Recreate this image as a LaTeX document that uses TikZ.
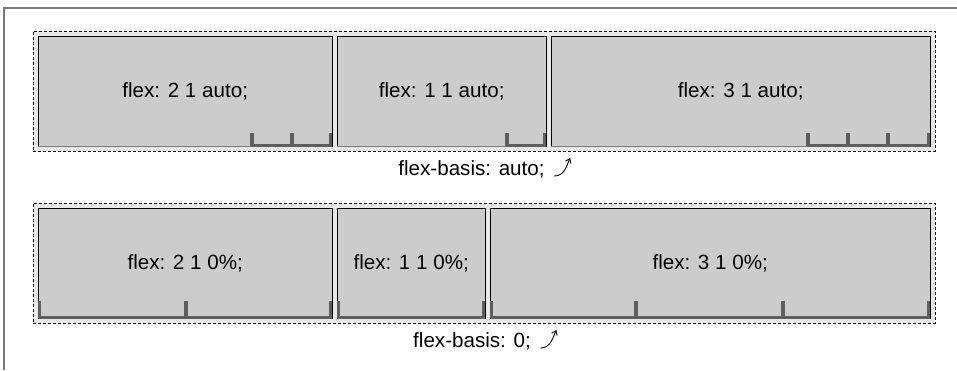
\documentclass[tikz,border=0pt]{standalone}
\usepackage{fontspec}
\setmainfont{Liberation Sans}
\usetikzlibrary{arrows.meta,calc}
\definecolor{itemgray}{HTML}{CCCCCC}
\definecolor{boxgray}{HTML}{E8E8E8}
\definecolor{bargray}{HTML}{5E5E5E}
\definecolor{framegray}{HTML}{7A7A7A}

\begin{document}
\begin{tikzpicture}[
x=1pt, y=-1pt,
box/.style={draw, dash pattern=on 3pt off 2pt, fill=boxgray, inner sep=0, anchor=north west, minimum width=902, minimum height=120},
item/.style={draw=black, fill=itemgray, inner sep=0, anchor=north west, minimum height=110, font=\fontsize{20.6}{24}\selectfont},
edge/.style={draw=framegray, line width=0.8pt},
bar/.style={draw=bargray, line width=3.4pt},
tick/.style={draw=bargray, line width=3.6pt},
lbl/.style={anchor=base, font=\fontsize{20.6}{24}\selectfont},
turn/.style={-{Straight Barb[length=4pt, width=6pt]}, line width=0.9pt}
]
\useasboundingbox (0,0) rectangle (957,370);
\draw[framegray, line width=1.2pt] (4,370) -- (4,8) -- (957,8);

% flex-basis: auto
\node[box] (boxA) at (33,31) {};
\node[item, minimum width=294] (t1) at (38,36) {flex: 2 1 auto;};
\node[item, minimum width=209] (t2) at (337,36) {flex: 1 1 auto;};
\node[item, minimum width=379] (t3) at (551,36) {flex: 3 1 auto;};
\foreach \n in {t1,t2,t3}
  \draw[edge] (\n.south west) -- (\n.south east);
\draw[bar] ($(t1.south -| 251,0)+(0,-1)$) -- ($(t1.south east)+(-0.5,-1)$);
\draw[bar] ($(t2.south -| 506,0)+(0,-1)$) -- ($(t2.south east)+(-0.5,-1)$);
\draw[bar] ($(t3.south -| 807,0)+(0,-1)$) -- ($(t3.south east)+(-0.5,-1)$);
\foreach \x in {252,292,330.5}
  \draw[tick] (t1.south -| \x,0) -- ++(0,-13);
\foreach \x in {507,544.5}
  \draw[tick] (t2.south -| \x,0) -- ++(0,-13);
\foreach \x in {808,848,888,928.5}
  \draw[tick] (t3.south -| \x,0) -- ++(0,-13);
\node[lbl] (labA) at (471.5,175) {flex-basis: auto;};
\draw[turn] ($(labA.base east)+(6,1)$) .. controls +(10,0) and +(-4,9) .. ($(labA.base east)+(22,-17)$);

% flex-basis: 0
\node[box] (boxB) at (33,203) {};
\node[item, minimum width=294] (b1) at (38,208) {flex: 2 1 0\%;};
\node[item, minimum width=148] (b2) at (337,208) {flex: 1 1 0\%;};
\node[item, minimum width=440] (b3) at (490,208) {flex: 3 1 0\%;};
\foreach \n in {b1,b2,b3}
  \draw[bar] ($(\n.south west)+(0.5,-1)$) -- ($(\n.south east)+(-0.5,-1)$);
\foreach \x in {39.5,186,330.5}
  \draw[tick] (b1.south -| \x,0) -- ++(0,-17);
\foreach \x in {338.5,483.5}
  \draw[tick] (b2.south -| \x,0) -- ++(0,-17);
\foreach \x in {491.5,636,783,928.5}
  \draw[tick] (b3.south -| \x,0) -- ++(0,-17);
\node[lbl] (labB) at (472,347) {flex-basis: 0;};
\draw[turn] ($(labB.base east)+(6,1)$) .. controls +(10,0) and +(-4,9) .. ($(labB.base east)+(22,-17)$);
\end{tikzpicture}
\end{document}
